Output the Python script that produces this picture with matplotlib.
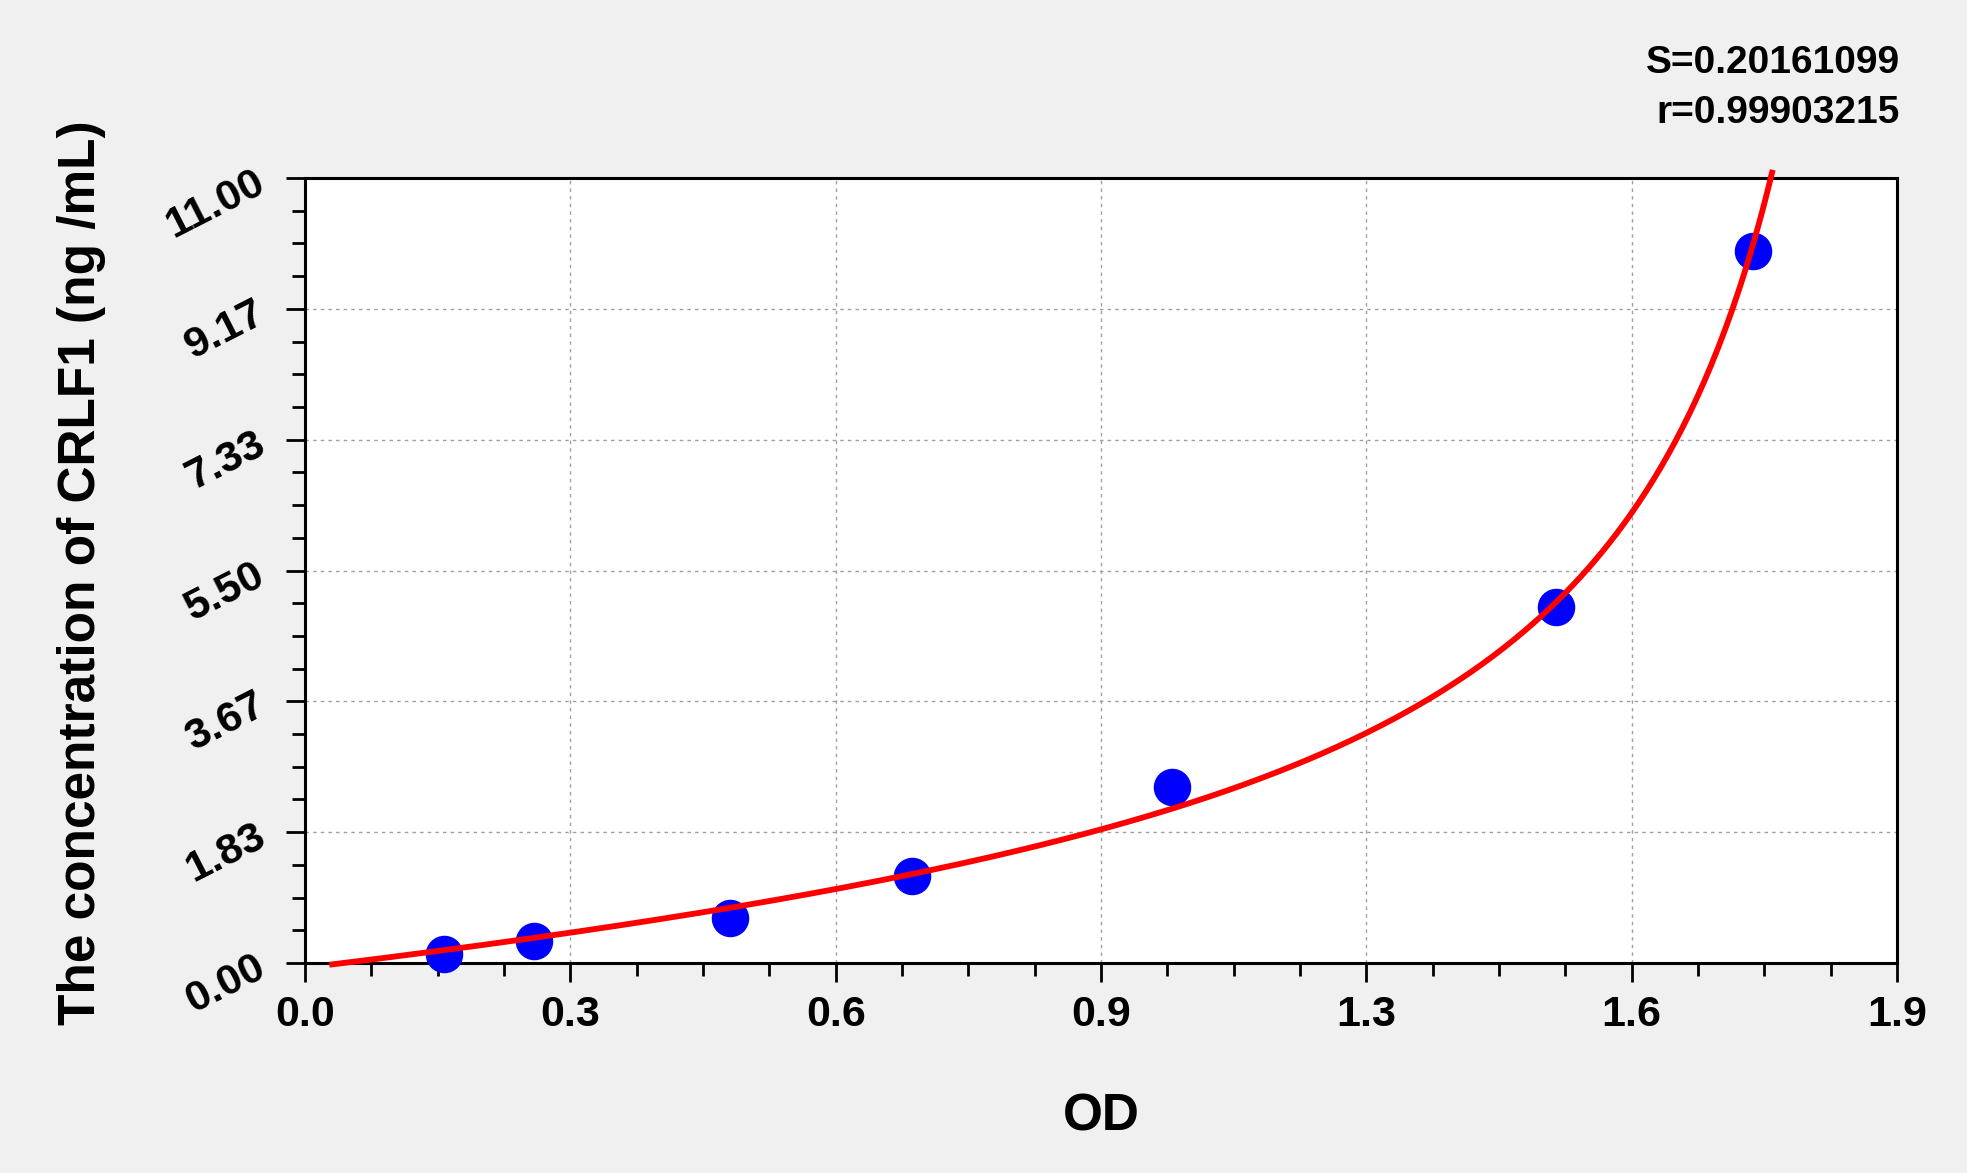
import numpy as np
import matplotlib
matplotlib.use("Agg")
import matplotlib.pyplot as plt
from matplotlib.ticker import AutoMinorLocator

plt.rcParams["font.family"] = ["Liberation Sans", "DejaVu Sans"]
plt.rcParams["font.weight"] = "bold"

# standard points
od = [0.166, 0.273, 0.507, 0.725, 1.035, 1.493, 1.728]
conc = [0.13, 0.31, 0.63, 1.22, 2.47, 4.99, 9.98]

# fitted curve
curve_od = [0.029, 0.095, 0.166, 0.275, 0.317, 0.402, 0.507, 0.636, 0.727,
            0.836, 0.950, 1.038, 1.146, 1.267, 1.344, 1.427, 1.492, 1.543,
            1.583, 1.625, 1.659, 1.686, 1.713, 1.735, 1.756]
curve_conc = [0.00, 0.05, 0.16, 0.36, 0.43, 0.59, 0.77, 1.05, 1.245,
              1.55, 1.845, 2.18, 2.61, 3.22, 3.76, 4.42, 5.01, 5.60,
              6.29, 7.06, 7.87, 8.67, 9.62, 10.43, 11.16]

x_max = 1.9
y_max = 11.0
x_tick_labels = ["0.0", "0.3", "0.6", "0.9", "1.3", "1.6", "1.9"]
y_tick_labels = ["0.00", "1.83", "3.67", "5.50", "7.33", "9.17", "11.00"]

stats_text = ["S=0.20161099", "r=0.99903215"]


def fit_curve(x, y):
    # least squares: quadratic plus a pole term, pole position by grid search
    x = np.asarray(x)
    y = np.asarray(y)
    w = 1.0 / (0.1 + 0.05 * y)
    best = None
    for d in np.linspace(x.max() + 0.01, 3.0, 300):
        basis = np.column_stack([np.ones_like(x), x, x ** 2, 1.0 / (d - x)])
        coef, *_ = np.linalg.lstsq(basis * w[:, None], y * w, rcond=None)
        res = np.sum(((basis @ coef - y) * w) ** 2)
        if best is None or res < best[0]:
            best = (res, d, coef)
    _, d, coef = best
    xx = np.linspace(x.min(), x.max(), 400)
    basis = np.column_stack([np.ones_like(xx), xx, xx ** 2, 1.0 / (d - xx)])
    yy = basis @ coef
    keep = yy <= y.max()
    return xx[keep], yy[keep]


W, H = 1967, 1173
fig = plt.figure(figsize=(W / 100, H / 100), dpi=100, facecolor="#f0f0f0")
ax = fig.add_axes([305 / W, 1 - 963 / H, 1592 / W, 785 / H])
ax.set_facecolor("white")

ax.set_xlim(0, x_max)
ax.set_ylim(0, y_max)
ax.set_xticks(np.linspace(0, x_max, len(x_tick_labels)))
ax.set_xticklabels(x_tick_labels)
ax.set_yticks(np.linspace(0, y_max, len(y_tick_labels)))
ax.set_yticklabels(y_tick_labels, rotation=27)
ax.xaxis.set_minor_locator(AutoMinorLocator(4))
ax.yaxis.set_minor_locator(AutoMinorLocator(4))

ax.tick_params(which="major", direction="out", length=14, width=2, labelsize=31)
ax.tick_params(which="minor", direction="out", length=9.5, width=2)
ax.tick_params(axis="x", which="major", pad=9)
ax.tick_params(axis="y", which="major", pad=10)
for lab in ax.get_xticklabels() + ax.get_yticklabels():
    lab.set_fontweight("bold")

for sp in ax.spines.values():
    sp.set_linewidth(2.2)
    sp.set_color("black")

ax.grid(True, which="major", color="#a0a0a0", linestyle=(0, (2.5, 3)), linewidth=1)
ax.set_axisbelow(True)

ax.scatter(od, conc, s=26 ** 2, color="#0000ff", zorder=3, clip_on=False)
fit_x, fit_y = fit_curve(curve_od, curve_conc)
ax.plot(fit_x, fit_y, color="#ff0000", linewidth=4.2, zorder=4,
        clip_on=False, solid_capstyle="butt")

fig.text(1101 / W, 1 - 1117 / H, "OD", fontsize=37, fontweight="bold",
         ha="center", va="center")
fig.text(82 / W, 1 - 573 / H, "The concentration of CRLF1 (ng /mL)",
         fontsize=37, fontweight="bold", rotation=90, ha="center", va="center")

fig.text(1900 / W, 1 - 63 / H, stats_text[0], fontsize=28, fontweight="bold",
         ha="right", va="center")
fig.text(1900 / W, 1 - 113 / H, stats_text[1], fontsize=28, fontweight="bold",
         ha="right", va="center")

fig.savefig("out.png", dpi=100, facecolor=fig.get_facecolor())
